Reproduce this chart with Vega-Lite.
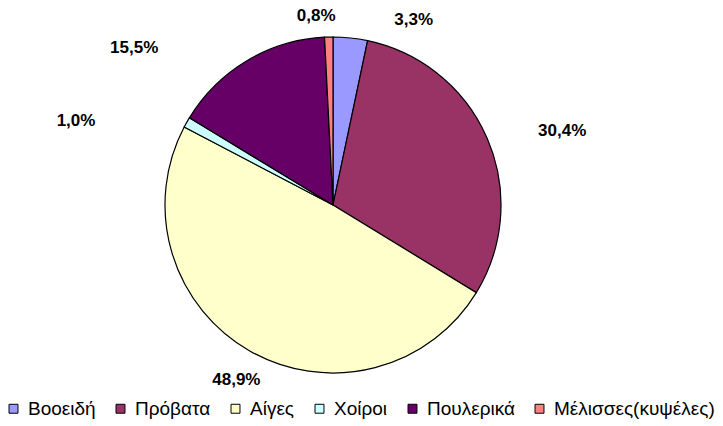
{
  "$schema": "https://vega.github.io/schema/vega-lite/v6.json",
  "width": 666,
  "height": 410,
  "autosize": {"type": "none"},
  "padding": {"left": 0, "top": 0, "right": 57, "bottom": 16},
  "background": "white",
  "config": {"view": {"stroke": null}, "font": "Liberation Sans"},
  "data": {"values": [
    {"cat": "Βοοειδή", "pct": 3.3, "label": "3,3%", "ord": 1},
    {"cat": "Πρόβατα", "pct": 30.4, "label": "30,4%", "ord": 2},
    {"cat": "Αίγες", "pct": 48.9, "label": "48,9%", "ord": 3},
    {"cat": "Χοίροι", "pct": 1.0, "label": "1,0%", "ord": 4},
    {"cat": "Πουλερικά", "pct": 15.5, "label": "15,5%", "ord": 5},
    {"cat": "Μέλισσες(κυψέλες)", "pct": 0.8, "label": "0,8%", "ord": 6}
  ]},
  "encoding": {
    "theta": {"field": "pct", "type": "quantitative", "stack": true},
    "order": {"field": "ord", "type": "quantitative"}
  },
  "layer": [
    {
      "mark": {"type": "arc", "outerRadius": 168, "stroke": "black", "strokeWidth": 1.2},
      "encoding": {
        "color": {
          "field": "cat", "type": "nominal",
          "scale": {
            "domain": ["Βοοειδή", "Πρόβατα", "Αίγες", "Χοίροι", "Πουλερικά", "Μέλισσες(κυψέλες)"],
            "range": ["#9999FF", "#993366", "#FFFFCC", "#CCFFFF", "#660066", "#FF8080"]
          },
          "legend": {
            "title": null, "orient": "none", "legendX": 4, "legendY": 399,
            "direction": "horizontal", "columns": 6, "columnPadding": 15,
            "symbolType": "square", "symbolSize": 80, "symbolStrokeColor": "black",
            "symbolStrokeWidth": 1, "symbolOpacity": 1,
            "labelFont": "Liberation Sans", "labelFontSize": 19, "labelColor": "black",
            "labelOffset": 5, "labelLimit": 300
          }
        }
      }
    },
    {
      "mark": {"type": "text", "radius": 190, "dx": 61, "dy": 4, "font": "Liberation Sans", "fontSize": 17, "fontWeight": "bold", "align": "center", "baseline": "middle", "color": "black"},
      "encoding": {"text": {"condition": {"test": "datum.ord == 1", "field": "label"}, "value": ""}}
    },
    {
      "mark": {"type": "text", "radius": 230, "dx": 18, "dy": 17, "font": "Liberation Sans", "fontSize": 17, "fontWeight": "bold", "align": "center", "baseline": "middle", "color": "black"},
      "encoding": {"text": {"condition": {"test": "datum.ord == 2", "field": "label"}, "value": ""}}
    },
    {
      "mark": {"type": "text", "radius": 200, "dx": 2, "dy": 1, "font": "Liberation Sans", "fontSize": 17, "fontWeight": "bold", "align": "center", "baseline": "middle", "color": "black"},
      "encoding": {"text": {"condition": {"test": "datum.ord == 3", "field": "label"}, "value": ""}}
    },
    {
      "mark": {"type": "text", "radius": 240, "dx": -48, "dy": 34, "font": "Liberation Sans", "fontSize": 17, "fontWeight": "bold", "align": "center", "baseline": "middle", "color": "black"},
      "encoding": {"text": {"condition": {"test": "datum.ord == 4", "field": "label"}, "value": ""}}
    },
    {
      "mark": {"type": "text", "radius": 230, "dx": -81, "dy": 41, "font": "Liberation Sans", "fontSize": 17, "fontWeight": "bold", "align": "center", "baseline": "middle", "color": "black"},
      "encoding": {"text": {"condition": {"test": "datum.ord == 5", "field": "label"}, "value": ""}}
    },
    {
      "mark": {"type": "text", "radius": 190, "dx": -12, "dy": 1, "font": "Liberation Sans", "fontSize": 17, "fontWeight": "bold", "align": "center", "baseline": "middle", "color": "black"},
      "encoding": {"text": {"condition": {"test": "datum.ord == 6", "field": "label"}, "value": ""}}
    }
  ]
}
